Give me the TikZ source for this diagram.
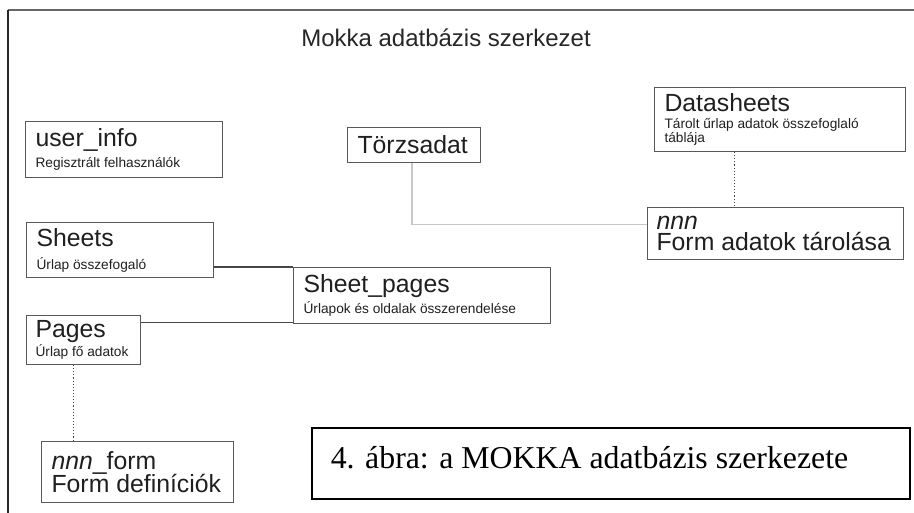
\documentclass[tikz,border=0pt]{standalone}
\usepackage{fontspec}
\setmainfont{Liberation Sans}
\newfontfamily\abrafont{Liberation Serif}
\usepackage{tikz}
\newcommand{\kisfelirat}{\fontsize{13.7}{15}\selectfont}

\begin{document}
\begin{tikzpicture}[x=1pt, y=-1pt,
    tabla/.style={draw=black!65, line width=1.1pt, anchor=north west, align=flush left,
        inner xsep=10pt, inner ysep=0pt, text=black!88, font=\fontsize{24.8}{26}\selectfont},
    kapcsolat/.style={draw=black!72, line width=1.1pt},
    pontozott/.style={draw=black!72, line width=1.1pt, dotted},
    halvany/.style={draw=black!22, line width=1.4pt}]
    \useasboundingbox (0,0) rectangle (914,513);
    % --- 外框与标题 (frame and title) ---
    % 页面边框 (只有上边和左边可见)
    \draw[black!60, line width=1.5pt] (914,10) -- (8,10);
    \draw[black!85, line width=1.5pt] (8,10) -- (8,513);
    \node[anchor=base, text=black!85, font=\fontsize{24}{26}\selectfont] (cim) at (446,47) {Mokka adatbázis szerkezet};
    % --- 左侧：表格 (tables on the left) ---
    \node[tabla, text width=177pt, minimum height=56pt] (userinfo) at (25,121)
        {user\_info\\[-5pt]{\kisfelirat Regisztrált felhasználók}};
    \node[tabla, text width=167pt, minimum height=55pt] (sheets) at (26,222)
        {Sheets\\[-3pt]{\kisfelirat Úrlap összefogaló}};
    \node[tabla, inner xsep=9pt, text width=96pt, minimum height=49pt] (pages) at (26,315)
        {Pages\\[-7pt]{\kisfelirat Úrlap fő adatok}};
    \node[tabla, text width=172pt, minimum height=61pt] (nnnform) at (41,441)
        {\textit{nnn}\_form\\[-3pt]Form definíciók};
    % --- 中间：表格 (tables in the middle) ---
    \node[tabla, text width=113pt, minimum height=35pt] (torzs) at (347,127) {Törzsadat};
    \node[tabla, text width=237pt, minimum height=56pt] (sheetpages) at (293,267)
        {Sheet\_pages\\[-5pt]{\kisfelirat Úrlapok és oldalak összerendelése}};
    % --- 右侧：表格 (tables on the right) ---
    \node[tabla, text width=231pt, minimum height=64pt] (datasheets) at (654,87)
        {Datasheets\\[-9pt]{\kisfelirat Tárolt űrlap adatok összefoglaló}\\[-12pt]{\kisfelirat táblája}};
    \node[tabla, inner xsep=9pt, text width=238pt, minimum height=52pt] (nnntabla) at (647,207)
        {\textit{nnn}\\[-5pt]Form adatok tárolása};
    % --- 连线 (connectors) ---
    \draw[kapcsolat] (sheetpages.north west) -- (sheetpages.north west -| sheets.east);
    \draw[kapcsolat] ([yshift=2pt]sheetpages.south west) -- ([yshift=2pt]sheetpages.south west -| pages.east);
    \draw[halvany] ([xshift=-2pt]torzs.south) |- ([yshift=9pt]nnntabla.west);
    \draw[pontozott] ([xshift=-46pt]datasheets.south) -- ([xshift=-46pt]datasheets.south |- nnntabla.north);
    \draw[pontozott] ([xshift=-10pt]pages.south) -- ([xshift=-10pt]pages.south |- nnnform.north);
    % --- 图注 (caption box) ---
    \node[draw=black, line width=1.6pt, anchor=north west, align=flush left, text width=560pt,
        inner xsep=19pt, inner ysep=0pt, minimum height=71pt, text depth=12pt,
        font=\abrafont\fontsize{31.8}{34}\selectfont] (abra) at (311,427)
        {4. ábra: a MOKKA adatbázis szerkezete};
\end{tikzpicture}
\end{document}
